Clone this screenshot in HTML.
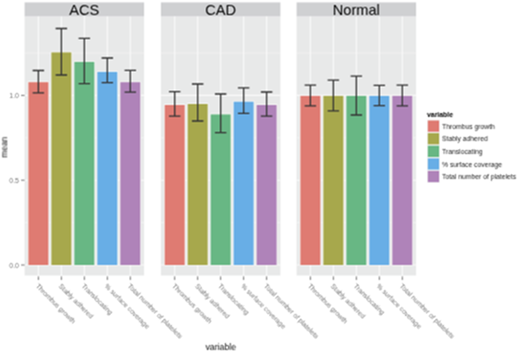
<!DOCTYPE html><html><head><meta charset="utf-8"><style>html,body{margin:0;padding:0;background:#fff;width:520px;height:351px;overflow:hidden}svg{display:block}text{font-family:"Liberation Sans",sans-serif}</style></head><body>
<svg width="520" height="351" viewBox="0 0 520 351">
<defs><filter id="bl" x="0" y="0" width="520" height="351" filterUnits="userSpaceOnUse" color-interpolation-filters="sRGB"><feConvolveMatrix order="5" kernelMatrix="0.00391 -0.01562 -0.03906 -0.01562 0.00391 -0.01562 0.06250 0.15625 0.06250 -0.01562 -0.03906 0.15625 0.39062 0.15625 -0.03906 -0.01562 0.06250 0.15625 0.06250 -0.01562 0.00391 -0.01562 -0.03906 -0.01562 0.00391" divisor="1" edgeMode="duplicate"/></filter></defs><g filter="url(#bl)">
<rect width="520" height="351" fill="#fff"/>
<rect x="24.6" y="2.4" width="119.5" height="14.20" fill="#CFD0D2"/>
<text x="84.35" y="15.0" font-size="14.6" fill="#0A0A0A" text-anchor="middle">ACS</text>
<rect x="24.6" y="16.6" width="119.5" height="258.90" fill="#E8E9E9"/>
<line x1="24.6" x2="144.1" y1="222.60" y2="222.60" stroke="#F7F7F7" stroke-width="0.6"/>
<line x1="24.6" x2="144.1" y1="137.80" y2="137.80" stroke="#F7F7F7" stroke-width="0.6"/>
<line x1="24.6" x2="144.1" y1="53.00" y2="53.00" stroke="#F7F7F7" stroke-width="0.6"/>
<line x1="24.6" x2="144.1" y1="265.00" y2="265.00" stroke="#FAFAFA" stroke-width="1.1"/>
<line x1="24.6" x2="144.1" y1="180.20" y2="180.20" stroke="#FAFAFA" stroke-width="1.1"/>
<line x1="24.6" x2="144.1" y1="95.40" y2="95.40" stroke="#FAFAFA" stroke-width="1.1"/>
<line x1="38.39" x2="38.39" y1="16.6" y2="275.5" stroke="#FAFAFA" stroke-width="1.1"/>
<line x1="61.37" x2="61.37" y1="16.6" y2="275.5" stroke="#FAFAFA" stroke-width="1.1"/>
<line x1="84.35" x2="84.35" y1="16.6" y2="275.5" stroke="#FAFAFA" stroke-width="1.1"/>
<line x1="107.33" x2="107.33" y1="16.6" y2="275.5" stroke="#FAFAFA" stroke-width="1.1"/>
<line x1="130.31" x2="130.31" y1="16.6" y2="275.5" stroke="#FAFAFA" stroke-width="1.1"/>
<rect x="27.49" y="81.30" width="21.79" height="183.70" fill="#F6F6F4"/>
<rect x="28.39" y="82.2" width="19.99" height="182.80" fill="#DF7B72"/>
<rect x="50.47" y="51.50" width="21.79" height="213.50" fill="#F6F6F4"/>
<rect x="51.37" y="52.4" width="19.99" height="212.60" fill="#A7A84C"/>
<rect x="73.45" y="61.00" width="21.79" height="204.00" fill="#F6F6F4"/>
<rect x="74.35" y="61.9" width="19.99" height="203.10" fill="#68B784"/>
<rect x="96.43" y="71.00" width="21.79" height="194.00" fill="#F6F6F4"/>
<rect x="97.33" y="71.9" width="19.99" height="193.10" fill="#68AEE6"/>
<rect x="119.41" y="81.30" width="21.79" height="183.70" fill="#F6F6F4"/>
<rect x="120.31" y="82.2" width="19.99" height="182.80" fill="#AF83B9"/>
<path d="M32.64 70.5H44.13M38.39 70.5V92.8M32.64 92.8H44.13" stroke="#333" stroke-width="1.3" fill="none"/>
<path d="M55.62 28.5H67.11M61.37 28.5V75M55.62 75H67.11" stroke="#333" stroke-width="1.3" fill="none"/>
<path d="M78.60 38.4H90.09M84.35 38.4V83.6M78.60 83.6H90.09" stroke="#333" stroke-width="1.3" fill="none"/>
<path d="M101.58 58H113.07M107.33 58V82.7M101.58 82.7H113.07" stroke="#333" stroke-width="1.3" fill="none"/>
<path d="M124.56 70.4H136.05M130.31 70.4V92.1M124.56 92.1H136.05" stroke="#333" stroke-width="1.3" fill="none"/>
<line x1="38.39" x2="38.39" y1="276.4" y2="280.0" stroke="#7A7A7A" stroke-width="1"/>
<text transform="translate(35.39,286.6) rotate(45)" font-size="6.8" fill="#7A7A7A">Thrombus growth</text>
<line x1="61.37" x2="61.37" y1="276.4" y2="280.0" stroke="#7A7A7A" stroke-width="1"/>
<text transform="translate(58.37,286.6) rotate(45)" font-size="6.8" fill="#7A7A7A">Stably adhered</text>
<line x1="84.35" x2="84.35" y1="276.4" y2="280.0" stroke="#7A7A7A" stroke-width="1"/>
<text transform="translate(81.35,286.6) rotate(45)" font-size="6.8" fill="#7A7A7A">Translocating</text>
<line x1="107.33" x2="107.33" y1="276.4" y2="280.0" stroke="#7A7A7A" stroke-width="1"/>
<text transform="translate(104.33,286.6) rotate(45)" font-size="6.8" fill="#7A7A7A">% surface coverage</text>
<line x1="130.31" x2="130.31" y1="276.4" y2="280.0" stroke="#7A7A7A" stroke-width="1"/>
<text transform="translate(127.31,286.6) rotate(45)" font-size="6.8" fill="#7A7A7A">Total number of platelets</text>
<rect x="160.9" y="2.4" width="119.5" height="14.20" fill="#CFD0D2"/>
<text x="220.65" y="15.0" font-size="14.6" fill="#0A0A0A" text-anchor="middle">CAD</text>
<rect x="160.9" y="16.6" width="119.5" height="258.90" fill="#E8E9E9"/>
<line x1="160.9" x2="280.4" y1="222.60" y2="222.60" stroke="#F7F7F7" stroke-width="0.6"/>
<line x1="160.9" x2="280.4" y1="137.80" y2="137.80" stroke="#F7F7F7" stroke-width="0.6"/>
<line x1="160.9" x2="280.4" y1="53.00" y2="53.00" stroke="#F7F7F7" stroke-width="0.6"/>
<line x1="160.9" x2="280.4" y1="265.00" y2="265.00" stroke="#FAFAFA" stroke-width="1.1"/>
<line x1="160.9" x2="280.4" y1="180.20" y2="180.20" stroke="#FAFAFA" stroke-width="1.1"/>
<line x1="160.9" x2="280.4" y1="95.40" y2="95.40" stroke="#FAFAFA" stroke-width="1.1"/>
<line x1="174.69" x2="174.69" y1="16.6" y2="275.5" stroke="#FAFAFA" stroke-width="1.1"/>
<line x1="197.67" x2="197.67" y1="16.6" y2="275.5" stroke="#FAFAFA" stroke-width="1.1"/>
<line x1="220.65" x2="220.65" y1="16.6" y2="275.5" stroke="#FAFAFA" stroke-width="1.1"/>
<line x1="243.63" x2="243.63" y1="16.6" y2="275.5" stroke="#FAFAFA" stroke-width="1.1"/>
<line x1="266.61" x2="266.61" y1="16.6" y2="275.5" stroke="#FAFAFA" stroke-width="1.1"/>
<rect x="163.79" y="104.10" width="21.79" height="160.90" fill="#F6F6F4"/>
<rect x="164.69" y="105.0" width="19.99" height="160.00" fill="#DF7B72"/>
<rect x="186.77" y="103.10" width="21.79" height="161.90" fill="#F6F6F4"/>
<rect x="187.67" y="104.0" width="19.99" height="161.00" fill="#A7A84C"/>
<rect x="209.75" y="113.50" width="21.79" height="151.50" fill="#F6F6F4"/>
<rect x="210.65" y="114.4" width="19.99" height="150.60" fill="#68B784"/>
<rect x="232.73" y="100.80" width="21.79" height="164.20" fill="#F6F6F4"/>
<rect x="233.63" y="101.7" width="19.99" height="163.30" fill="#68AEE6"/>
<rect x="255.71" y="104.10" width="21.79" height="160.90" fill="#F6F6F4"/>
<rect x="256.61" y="105.0" width="19.99" height="160.00" fill="#AF83B9"/>
<path d="M168.94 91.7H180.43M174.69 91.7V116.2M168.94 116.2H180.43" stroke="#333" stroke-width="1.3" fill="none"/>
<path d="M191.92 84H203.41M197.67 84V121M191.92 121H203.41" stroke="#333" stroke-width="1.3" fill="none"/>
<path d="M214.90 94H226.39M220.65 94V132.6M214.90 132.6H226.39" stroke="#333" stroke-width="1.3" fill="none"/>
<path d="M237.88 87.9H249.37M243.63 87.9V113.3M237.88 113.3H249.37" stroke="#333" stroke-width="1.3" fill="none"/>
<path d="M260.86 92H272.35M266.61 92V116.2M260.86 116.2H272.35" stroke="#333" stroke-width="1.3" fill="none"/>
<line x1="174.69" x2="174.69" y1="276.4" y2="280.0" stroke="#7A7A7A" stroke-width="1"/>
<text transform="translate(171.69,286.6) rotate(45)" font-size="6.8" fill="#7A7A7A">Thrombus growth</text>
<line x1="197.67" x2="197.67" y1="276.4" y2="280.0" stroke="#7A7A7A" stroke-width="1"/>
<text transform="translate(194.67,286.6) rotate(45)" font-size="6.8" fill="#7A7A7A">Stably adhered</text>
<line x1="220.65" x2="220.65" y1="276.4" y2="280.0" stroke="#7A7A7A" stroke-width="1"/>
<text transform="translate(217.65,286.6) rotate(45)" font-size="6.8" fill="#7A7A7A">Translocating</text>
<line x1="243.63" x2="243.63" y1="276.4" y2="280.0" stroke="#7A7A7A" stroke-width="1"/>
<text transform="translate(240.63,286.6) rotate(45)" font-size="6.8" fill="#7A7A7A">% surface coverage</text>
<line x1="266.61" x2="266.61" y1="276.4" y2="280.0" stroke="#7A7A7A" stroke-width="1"/>
<text transform="translate(263.61,286.6) rotate(45)" font-size="6.8" fill="#7A7A7A">Total number of platelets</text>
<rect x="296.6" y="2.4" width="119.5" height="14.20" fill="#CFD0D2"/>
<text x="356.35" y="15.0" font-size="14.6" fill="#0A0A0A" text-anchor="middle">Normal</text>
<rect x="296.6" y="16.6" width="119.5" height="258.90" fill="#E8E9E9"/>
<line x1="296.6" x2="416.1" y1="222.60" y2="222.60" stroke="#F7F7F7" stroke-width="0.6"/>
<line x1="296.6" x2="416.1" y1="137.80" y2="137.80" stroke="#F7F7F7" stroke-width="0.6"/>
<line x1="296.6" x2="416.1" y1="53.00" y2="53.00" stroke="#F7F7F7" stroke-width="0.6"/>
<line x1="296.6" x2="416.1" y1="265.00" y2="265.00" stroke="#FAFAFA" stroke-width="1.1"/>
<line x1="296.6" x2="416.1" y1="180.20" y2="180.20" stroke="#FAFAFA" stroke-width="1.1"/>
<line x1="296.6" x2="416.1" y1="95.40" y2="95.40" stroke="#FAFAFA" stroke-width="1.1"/>
<line x1="310.39" x2="310.39" y1="16.6" y2="275.5" stroke="#FAFAFA" stroke-width="1.1"/>
<line x1="333.37" x2="333.37" y1="16.6" y2="275.5" stroke="#FAFAFA" stroke-width="1.1"/>
<line x1="356.35" x2="356.35" y1="16.6" y2="275.5" stroke="#FAFAFA" stroke-width="1.1"/>
<line x1="379.33" x2="379.33" y1="16.6" y2="275.5" stroke="#FAFAFA" stroke-width="1.1"/>
<line x1="402.31" x2="402.31" y1="16.6" y2="275.5" stroke="#FAFAFA" stroke-width="1.1"/>
<rect x="299.49" y="95.00" width="21.79" height="170.00" fill="#F6F6F4"/>
<rect x="300.39" y="95.9" width="19.99" height="169.10" fill="#DF7B72"/>
<rect x="322.47" y="95.00" width="21.79" height="170.00" fill="#F6F6F4"/>
<rect x="323.37" y="95.9" width="19.99" height="169.10" fill="#A7A84C"/>
<rect x="345.45" y="95.00" width="21.79" height="170.00" fill="#F6F6F4"/>
<rect x="346.35" y="95.9" width="19.99" height="169.10" fill="#68B784"/>
<rect x="368.43" y="95.00" width="21.79" height="170.00" fill="#F6F6F4"/>
<rect x="369.33" y="95.9" width="19.99" height="169.10" fill="#68AEE6"/>
<rect x="391.41" y="95.00" width="21.79" height="170.00" fill="#F6F6F4"/>
<rect x="392.31" y="95.9" width="19.99" height="169.10" fill="#AF83B9"/>
<path d="M304.64 85.1H316.13M310.39 85.1V105.8M304.64 105.8H316.13" stroke="#333" stroke-width="1.3" fill="none"/>
<path d="M327.62 80.2H339.11M333.37 80.2V110.9M327.62 110.9H339.11" stroke="#333" stroke-width="1.3" fill="none"/>
<path d="M350.60 76.2H362.09M356.35 76.2V115M350.60 115H362.09" stroke="#333" stroke-width="1.3" fill="none"/>
<path d="M373.58 85.3H385.07M379.33 85.3V105.6M373.58 105.6H385.07" stroke="#333" stroke-width="1.3" fill="none"/>
<path d="M396.56 85.1H408.05M402.31 85.1V105.8M396.56 105.8H408.05" stroke="#333" stroke-width="1.3" fill="none"/>
<line x1="310.39" x2="310.39" y1="276.4" y2="280.0" stroke="#7A7A7A" stroke-width="1"/>
<text transform="translate(307.39,286.6) rotate(45)" font-size="6.8" fill="#7A7A7A">Thrombus growth</text>
<line x1="333.37" x2="333.37" y1="276.4" y2="280.0" stroke="#7A7A7A" stroke-width="1"/>
<text transform="translate(330.37,286.6) rotate(45)" font-size="6.8" fill="#7A7A7A">Stably adhered</text>
<line x1="356.35" x2="356.35" y1="276.4" y2="280.0" stroke="#7A7A7A" stroke-width="1"/>
<text transform="translate(353.35,286.6) rotate(45)" font-size="6.8" fill="#7A7A7A">Translocating</text>
<line x1="379.33" x2="379.33" y1="276.4" y2="280.0" stroke="#7A7A7A" stroke-width="1"/>
<text transform="translate(376.33,286.6) rotate(45)" font-size="6.8" fill="#7A7A7A">% surface coverage</text>
<line x1="402.31" x2="402.31" y1="276.4" y2="280.0" stroke="#7A7A7A" stroke-width="1"/>
<text transform="translate(399.31,286.6) rotate(45)" font-size="6.8" fill="#7A7A7A">Total number of platelets</text>
<line x1="21.1" x2="24.6" y1="265.00" y2="265.00" stroke="#7A7A7A" stroke-width="1"/>
<text x="19" y="267.50" font-size="7" fill="#7A7A7A" text-anchor="end">0.0</text>
<line x1="21.1" x2="24.6" y1="180.20" y2="180.20" stroke="#7A7A7A" stroke-width="1"/>
<text x="19" y="182.70" font-size="7" fill="#7A7A7A" text-anchor="end">0.5</text>
<line x1="21.1" x2="24.6" y1="95.40" y2="95.40" stroke="#7A7A7A" stroke-width="1"/>
<text x="19" y="97.90" font-size="7" fill="#7A7A7A" text-anchor="end">1.0</text>
<text transform="translate(7.2,147.3) rotate(-90)" font-size="8.4" fill="#111" text-anchor="middle">mean</text>
<text x="220.8" y="349.6" font-size="8.8" fill="#111" text-anchor="middle">variable</text>
<text x="427" y="117" font-size="6.9" font-weight="bold" fill="#000">variable</text>
<rect x="427" y="119.70" width="13" height="12.6" fill="#F2F2F2"/>
<rect x="427.8" y="120.50" width="11.3" height="11.3" fill="#DF7B72"/>
<text x="442" y="128.70" font-size="6.8" fill="#1E1E1E">Thrombus growth</text>
<rect x="427" y="132.30" width="13" height="12.6" fill="#F2F2F2"/>
<rect x="427.8" y="133.10" width="11.3" height="11.3" fill="#A7A84C"/>
<text x="442" y="141.30" font-size="6.8" fill="#1E1E1E">Stably adhered</text>
<rect x="427" y="144.90" width="13" height="12.6" fill="#F2F2F2"/>
<rect x="427.8" y="145.70" width="11.3" height="11.3" fill="#68B784"/>
<text x="442" y="153.90" font-size="6.8" fill="#1E1E1E">Translocating</text>
<rect x="427" y="157.50" width="13" height="12.6" fill="#F2F2F2"/>
<rect x="427.8" y="158.30" width="11.3" height="11.3" fill="#68AEE6"/>
<text x="442" y="166.50" font-size="6.8" fill="#1E1E1E">% surface coverage</text>
<rect x="427" y="170.10" width="13" height="12.6" fill="#F2F2F2"/>
<rect x="427.8" y="170.90" width="11.3" height="11.3" fill="#AF83B9"/>
<text x="442" y="179.10" font-size="6.8" fill="#1E1E1E">Total number of platelets</text>
</g></svg></body></html>
